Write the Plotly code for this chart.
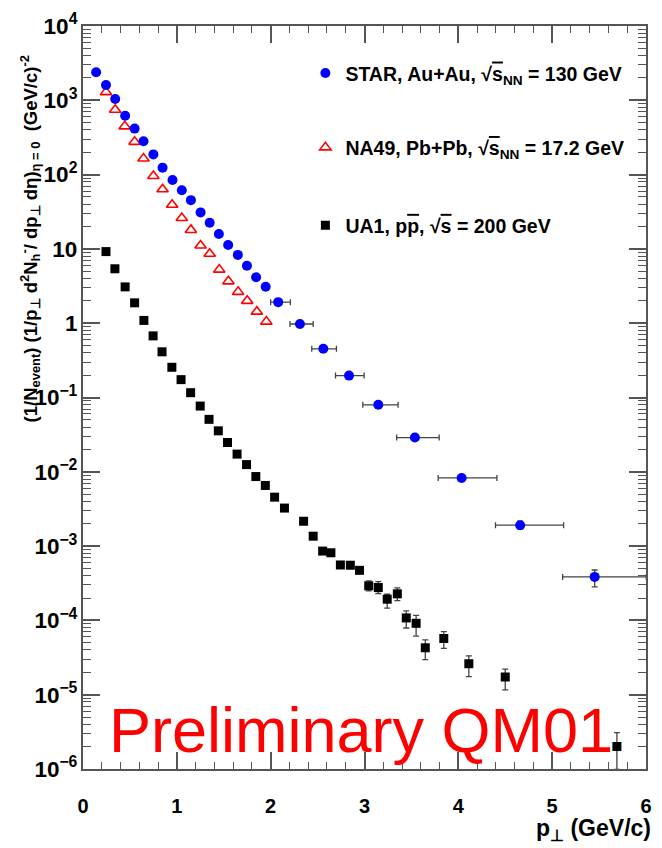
import plotly.graph_objects as go

# ---------------- data ----------------
star_pt = [0.14, 0.245, 0.343, 0.449, 0.55, 0.645, 0.75, 0.848, 0.954, 1.053,
           1.15, 1.253, 1.35, 1.448, 1.547, 1.65, 1.747, 1.845, 1.947,
           2.08, 2.312, 2.561, 2.835, 3.147, 3.537, 4.035, 4.659, 5.453]
star_y = [2380, 1610, 1040, 621, 416, 281, 187, 124, 84.7, 61.7,
          45.3, 31.0, 22.5, 15.9, 11.3, 8.3, 5.94, 4.15, 3.09,
          1.92, 0.975, 0.452, 0.197, 0.0798, 0.0289, 0.00826, 0.00191, 0.000385]
star_xerr_plus = [0] * 19 + [0.13, 0.141, 0.14, 0.161, 0.211, 0.259, 0.376, 0.463, 0.55]
star_xerr_minus = [0] * 19 + [0.08, 0.106, 0.123, 0.144, 0.165, 0.194, 0.25, 0.263, 0.341]
star_yerr_plus = [0] * 26 + [0.00025, 0.000092]
star_yerr_minus = [0] * 26 + [0.00022, 0.000102]

na49_pt = [0.245, 0.343, 0.445, 0.55, 0.645, 0.75, 0.848, 0.95, 1.053,
           1.15, 1.253, 1.35, 1.452, 1.55, 1.653, 1.75, 1.853, 1.954]
na49_y = [1288, 747, 446, 276, 165, 95.8, 63.6, 39.3, 26.0,
          18.0, 11.1, 8.6, 5.26, 3.66, 2.64, 2.0, 1.43, 1.05]

ua1_pt = [0.245, 0.34, 0.449, 0.55, 0.649, 0.747, 0.842, 0.947, 1.045, 1.147,
          1.249, 1.343, 1.442, 1.54, 1.642, 1.743, 1.842, 1.943, 2.042, 2.147,
          2.351, 2.453, 2.554, 2.642, 2.743, 2.849, 2.947, 3.045, 3.147, 3.242,
          3.35, 3.445, 3.55, 3.648, 3.845, 4.112, 4.50, 5.69]
ua1_y = [9.2, 5.4, 3.08, 1.88, 1.09, 0.675, 0.412, 0.255, 0.174, 0.116,
         0.0767, 0.0508, 0.0356, 0.0248, 0.0173, 0.0125, 0.00863, 0.00655, 0.00456, 0.00325,
         0.00216, 0.00136, 0.000857, 0.000813, 0.000557, 0.000553, 0.000472, 0.000292, 0.000277, 0.000193,
         0.000228, 0.000108, 9.14e-5, 4.28e-5, 5.71e-5, 2.61e-5, 1.73e-5, 2.01e-6]
ua1_yerr_plus = [0] * 27 + [4.85e-5, 5.6e-5, 3.2e-5, 4.6e-5, 2.6e-5, 2.55e-5, 1.19e-5,
                            1.37e-5, 0.73e-5, 0.48e-5, 1.08e-6]
ua1_yerr_minus = [0] * 27 + [4.17e-5, 4.7e-5, 4.7e-5, 4.4e-5, 2.9e-5, 3.0e-5, 1.32e-5,
                             1.51e-5, 0.86e-5, 0.57e-5, 1.02e-6]

label_star = ("STAR, Au+Au, \u221a<span style='text-decoration:overline'>s</span>"
              "<sub>NN</sub> = 130 GeV")
label_na49 = ("NA49, Pb+Pb, \u221a<span style='text-decoration:overline'>s</span>"
              "<sub>NN</sub> = 17.2 GeV")
label_ua1 = ("UA1, p<span style='text-decoration:overline'>p</span>, "
             "\u221a<span style='text-decoration:overline'>s</span> = 200 GeV")

y_title = ("(1/N<sub>event</sub>) (1/p<sub>\u22a5</sub> d<sup>2</sup>N<sub>h</sub><sup>-</sup>/ "
           "dp<sub>\u22a5</sub> d\u03b7)<sub>\u03b7 = 0</sub>\u00a0\u00a0(GeV/c)<sup>-2</sup>")
x_title = "p<sub>\u22a5</sub> (GeV/c)"
watermark = "Preliminary QM01"

FONT = "Liberation Sans, Arial, Helvetica, sans-serif"
ERRC = "#444444"

fig = go.Figure()

fig.add_trace(go.Scatter(
    x=ua1_pt, y=ua1_y, mode="markers", name=label_ua1, legend="legend3",
    marker=dict(symbol="square", size=9, color="black"),
    error_y=dict(type="data", symmetric=False, array=ua1_yerr_plus,
                 arrayminus=ua1_yerr_minus, color=ERRC, thickness=1.3, width=3),
))
fig.add_trace(go.Scatter(
    x=na49_pt, y=na49_y, mode="markers", name=label_na49, legend="legend2",
    marker=dict(symbol="triangle-up-open", size=10, color="#ff0000",
                line=dict(width=1.6, color="#ff0000")),
))
fig.add_trace(go.Scatter(
    x=star_pt, y=star_y, mode="markers", name=label_star, legend="legend",
    marker=dict(symbol="circle", size=10, color="#0000ff"),
    error_x=dict(type="data", symmetric=False, array=star_xerr_plus,
                 arrayminus=star_xerr_minus, color=ERRC, thickness=1.3, width=3),
    error_y=dict(type="data", symmetric=False, array=star_yerr_plus,
                 arrayminus=star_yerr_minus, color=ERRC, thickness=1.3, width=3),
))

legend_common = dict(x=0.395, xanchor="left", yanchor="middle",
                     bgcolor="rgba(0,0,0,0)",
                     font=dict(family=FONT, size=19.5, color="black", weight="bold"))
fig.update_layout(
    legend=dict(y=0.9364, **legend_common),
    legend2=dict(y=0.8362, **legend_common),
    legend3=dict(y=0.7314, **legend_common),
)

axis_common = dict(
    showline=True, linecolor="#555555", linewidth=2, mirror="ticks",
    ticks="inside", tickcolor="#555555", tickwidth=1.5, ticklen=17,
    showgrid=False, zeroline=False,
)

fig.update_xaxes(
    range=[0, 6], dtick=1, tick0=0,
    tickfont=dict(family=FONT, size=20, color="black", weight="bold"),
    ticklabelstandoff=18,
    minor=dict(ticks="inside", dtick=0.2, ticklen=7, tickcolor="#555555", tickwidth=1.2),
    **axis_common,
)
fig.update_yaxes(
    type="log", range=[-6, 4], dtick=1, exponentformat="power",
    tickfont=dict(family=FONT, size=18, color="black", weight="bold"),
    minor=dict(ticks="inside", dtick="D1", ticklen=8, tickcolor="#555555", tickwidth=1.2),
    **axis_common,
)

fig.add_annotation(
    text=y_title, xref="paper", yref="paper", x=-0.093, y=0.7136,
    xanchor="center", yanchor="middle", textangle=-90, showarrow=False,
    font=dict(family=FONT, size=18.5, color="black", weight="bold"),
)
fig.add_annotation(
    text=x_title, xref="paper", yref="paper", x=1.012, y=-0.0815,
    xanchor="right", yanchor="middle", showarrow=False,
    font=dict(family=FONT, size=23, color="black", weight="bold"),
)
fig.add_annotation(
    text=watermark, xref="paper", yref="paper", x=0.0427, y=0.052,
    xanchor="left", yanchor="middle", showarrow=False,
    font=dict(family=FONT, size=63, color="#ff0000"),
)

fig.update_layout(
    width=662, height=848,
    margin=dict(l=83, r=10, t=21, b=79),
    paper_bgcolor="white", plot_bgcolor="white",
    showlegend=True,
)

fig.write_html("out.html")
